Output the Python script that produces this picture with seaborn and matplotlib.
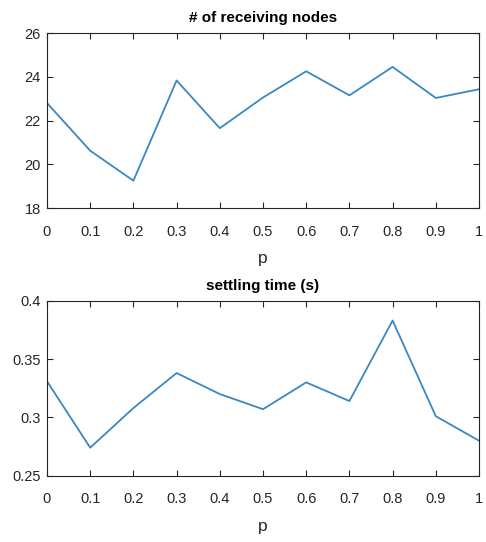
import matplotlib
matplotlib.use("Agg")
import matplotlib.pyplot as plt
import seaborn as sns
import pandas as pd

p_values = [0, 0.1, 0.2, 0.3, 0.4, 0.5, 0.6, 0.7, 0.8, 0.9, 1.0]
receiving_nodes = [22.8, 20.62, 19.25, 23.83, 21.65, 23.05, 24.25, 23.15, 24.45, 23.03, 23.43]
settling_time = [0.331, 0.274, 0.308, 0.338, 0.320, 0.307, 0.330, 0.314, 0.383, 0.301, 0.280]

x_ticks = [0, 0.1, 0.2, 0.3, 0.4, 0.5, 0.6, 0.7, 0.8, 0.9, 1]
x_tick_labels = ["0", "0.1", "0.2", "0.3", "0.4", "0.5", "0.6", "0.7", "0.8", "0.9", "1"]
nodes_ticks = [18, 20, 22, 24, 26]
time_ticks = [0.25, 0.3, 0.35, 0.4]
time_tick_labels = ["0.25", "0.3", "0.35", "0.4"]

sns.set_theme(style="ticks")
plt.rcParams["font.family"] = ["Liberation Sans", "DejaVu Sans"]

line_color = "#3a88bf"
axis_color = "#262626"

fig = plt.figure(figsize=(4.86, 5.42), dpi=100)
ax1 = fig.add_axes([0.0967, 0.6162, 0.8889, 0.3229])
ax2 = fig.add_axes([0.0967, 0.1223, 0.8889, 0.3229])

df = pd.DataFrame({"p": p_values, "nodes": receiving_nodes, "time": settling_time})

sns.lineplot(data=df, x="p", y="nodes", ax=ax1, color=line_color, linewidth=1.3)
sns.lineplot(data=df, x="p", y="time", ax=ax2, color=line_color, linewidth=1.3)

panels = [
    (ax1, "# of receiving nodes", (18, 26), nodes_ticks, [str(t) for t in nodes_ticks]),
    (ax2, "settling time (s)", (0.25, 0.4), time_ticks, time_tick_labels),
]
for ax, title, ylim, yticks, ylabels in panels:
    ax.set_xlim(0, 1)
    ax.set_ylim(*ylim)
    ax.set_xticks(x_ticks)
    ax.set_xticklabels(x_tick_labels)
    ax.set_yticks(yticks)
    ax.set_yticklabels(ylabels)
    ax.set_title(title, fontsize=11, fontweight="bold", color="black", pad=8)
    ax.set_xlabel("p", fontsize=12.5, color=axis_color, labelpad=9)
    ax.set_ylabel("")
    ax.tick_params(direction="in", length=4, width=0.8, top=True, right=True,
                   labelsize=10.5, colors=axis_color)
    ax.tick_params(axis="x", pad=12)
    ax.tick_params(axis="y", pad=4.5)
    for spine in ax.spines.values():
        spine.set_visible(True)
        spine.set_color(axis_color)
        spine.set_linewidth(0.8)
    ax.set_facecolor("white")

fig.savefig("out.png", dpi=100, facecolor="white")
